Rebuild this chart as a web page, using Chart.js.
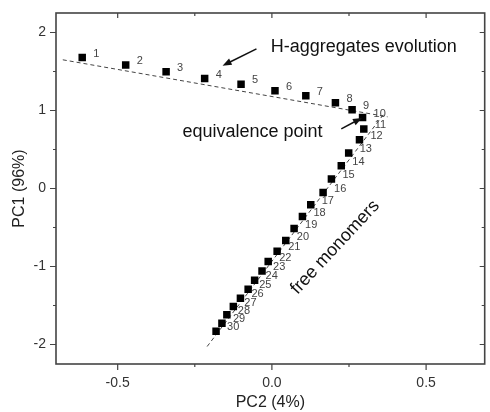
<!DOCTYPE html>
<html><head><meta charset="utf-8">
<script src="https://cdn.jsdelivr.net/npm/chart.js@4/dist/chart.umd.min.js"></script>
<style>html,body{margin:0;padding:0;background:#fff}#wrap{width:490px;height:412px}</style>
</head><body><div id="wrap"><canvas id="c" width="490" height="412"></canvas></div>
<script>
// ---- data ----
const pointNumbers = [1,2,3,4,5,6,7,8,9,10,11,12,13,14,15,16,17,18,19,20,21,22,23,24,25,26,27,28,29,30];
const pc2Values = [-0.615,-0.474,-0.343,-0.218,-0.100,0.010,0.110,0.206,0.260,0.294,0.298,0.284,0.249,0.225,0.193,0.166,0.126,0.099,0.072,0.045,0.017,-0.012,-0.032,-0.056,-0.077,-0.102,-0.125,-0.146,-0.162,-0.181];
const pc1Values = [1.679,1.582,1.496,1.410,1.338,1.253,1.188,1.099,1.009,0.910,0.762,0.624,0.454,0.291,0.121,-0.051,-0.209,-0.359,-0.513,-0.667,-0.803,-0.936,-1.059,-1.177,-1.292,-1.408,-1.513,-1.619,-1.726,-1.829];
const hFitX = [-0.678, 0.375];
const hFitY = [1.650, 0.919];
const monoFitX = [-0.210, 0.362];
const monoFitY = [-2.026, 0.950];
const xMajorTicks = [-0.5, 0.0, 0.5];
const xTickLabels = ['-0.5', '0.0', '0.5'];
const xMinorTicks = [-0.25, 0.25];
const yMajorTicks = [-2, -1, 0, 1, 2];
const yTickLabels = ['-2', '-1', '0', '1', '2'];
const yMinorTicks = [-1.5, -0.5, 0.5, 1.5];
const xTitle = 'PC2 (4%)';
const yTitle = 'PC1 (96%)';
const annoHText = 'H-aggregates evolution';
const annoEqText = 'equivalence point';
const annoFreeText = 'free monomers';
// annotation anchors in data units
const annoHPos = [-0.004, 1.815];
const annoHArrow = [[-0.050, 1.79], [-0.160, 1.575]];
const annoEqPos = [-0.290, 0.72];
const annoEqArrow = [[0.225, 0.765], [0.292, 0.905]];
const annoFreePos = [0.205, -0.755];

const FONT = "'Liberation Sans', Arial, sans-serif";

const pts = pc2Values.map((x, i) => ({x, y: pc1Values[i]}));
const hLine = hFitX.map((x, i) => ({x, y: hFitY[i]}));
const mLine = monoFitX.map((x, i) => ({x, y: monoFitY[i]}));

function arrow(ctx, x1, y1, x2, y2) {
  const a = Math.atan2(y2 - y1, x2 - x1);
  const L = 9, W = 3.5;
  ctx.beginPath();
  ctx.moveTo(x1, y1);
  ctx.lineTo(x2 - Math.cos(a) * L * 0.8, y2 - Math.sin(a) * L * 0.8);
  ctx.stroke();
  ctx.beginPath();
  ctx.moveTo(x2, y2);
  ctx.lineTo(x2 - Math.cos(a) * L + Math.sin(a) * W, y2 - Math.sin(a) * L - Math.cos(a) * W);
  ctx.lineTo(x2 - Math.cos(a) * L - Math.sin(a) * W, y2 - Math.sin(a) * L + Math.cos(a) * W);
  ctx.closePath();
  ctx.fill();
}

const decor = {
  id: 'decor',
  afterDatasetsDraw(chart) {
    const ctx = chart.ctx, xs = chart.scales.x, ys = chart.scales.y, a = chart.chartArea;
    ctx.save();
    // point number labels
    const meta = chart.getDatasetMeta(0);
    ctx.font = '11px ' + FONT;
    ctx.fillStyle = '#444';
    ctx.textAlign = 'left';
    ctx.textBaseline = 'middle';
    meta.data.forEach((el, i) => {
      ctx.fillText(String(pointNumbers[i]), el.x + 11, el.y - 4);
    });
    // frame
    ctx.strokeStyle = '#444';
    ctx.lineWidth = 1.6;
    ctx.strokeRect(a.left, a.top, a.right - a.left, a.bottom - a.top);
    // ticks
    ctx.lineWidth = 1.2;
    ctx.beginPath();
    xMajorTicks.forEach(v => { const p = xs.getPixelForValue(v);
      ctx.moveTo(p, a.bottom); ctx.lineTo(p, a.bottom + 6);
      ctx.moveTo(p, a.top); ctx.lineTo(p, a.top + 5); });
    xMinorTicks.forEach(v => { const p = xs.getPixelForValue(v);
      ctx.moveTo(p, a.bottom); ctx.lineTo(p, a.bottom + 3);
      ctx.moveTo(p, a.top); ctx.lineTo(p, a.top + 3); });
    yMajorTicks.forEach(v => { const p = ys.getPixelForValue(v);
      ctx.moveTo(a.left, p); ctx.lineTo(a.left - 6, p);
      ctx.moveTo(a.right, p); ctx.lineTo(a.right - 5, p); });
    yMinorTicks.forEach(v => { const p = ys.getPixelForValue(v);
      ctx.moveTo(a.left, p); ctx.lineTo(a.left - 3, p);
      ctx.moveTo(a.right, p); ctx.lineTo(a.right - 3, p); });
    ctx.stroke();
    // annotations
    ctx.fillStyle = '#111';
    ctx.strokeStyle = '#111';
    ctx.font = '18px ' + FONT;
    ctx.textAlign = 'left';
    ctx.textBaseline = 'middle';
    ctx.fillText(annoHText, xs.getPixelForValue(annoHPos[0]), ys.getPixelForValue(annoHPos[1]));
    ctx.fillText(annoEqText, xs.getPixelForValue(annoEqPos[0]), ys.getPixelForValue(annoEqPos[1]));
    ctx.lineWidth = 1.5;
    arrow(ctx, xs.getPixelForValue(annoHArrow[0][0]), ys.getPixelForValue(annoHArrow[0][1]),
               xs.getPixelForValue(annoHArrow[1][0]), ys.getPixelForValue(annoHArrow[1][1]));
    arrow(ctx, xs.getPixelForValue(annoEqArrow[0][0]), ys.getPixelForValue(annoEqArrow[0][1]),
               xs.getPixelForValue(annoEqArrow[1][0]), ys.getPixelForValue(annoEqArrow[1][1]));
    ctx.save();
    ctx.translate(xs.getPixelForValue(annoFreePos[0]), ys.getPixelForValue(annoFreePos[1]));
    ctx.rotate(-47 * Math.PI / 180);
    ctx.textAlign = 'center';
    ctx.fillText(annoFreeText, 0, 0);
    ctx.restore();
    ctx.restore();
  }
};

new Chart(document.getElementById('c'), {
  type: 'scatter',
  data: {
    datasets: [
      { data: pts, order: 0, pointStyle: 'rect', pointRadius: 5.3, pointHoverRadius: 5.3,
        backgroundColor: '#000', borderColor: '#000', borderWidth: 0, showLine: false },
      { data: hLine, order: 1, showLine: true, pointRadius: 0, borderColor: '#444',
        borderWidth: 1, borderDash: [4, 3], fill: false },
      { data: mLine, order: 2, showLine: true, pointRadius: 0, borderColor: '#444',
        borderWidth: 1, borderDash: [4, 3], fill: false }
    ]
  },
  options: {
    responsive: false, animation: false, devicePixelRatio: 1,
    layout: { padding: { top: 13, right: 1, left: 0, bottom: 0 } },
    plugins: { legend: { display: false }, tooltip: { enabled: false } },
    scales: {
      x: {
        type: 'linear', min: -0.7, max: 0.69,
        afterBuildTicks: s => { s.ticks = xMajorTicks.map(v => ({value: v})); },
        afterFit: s => { s.height = 48; },
        ticks: { callback: (v, i) => xTickLabels[i], font: { family: FONT, size: 14 }, color: '#333', padding: 5, maxRotation: 0, autoSkip: false },
        grid: { color: 'transparent', tickLength: 6, drawTicks: true },
        border: { display: false },
        title: { display: true, text: xTitle, font: { family: FONT, size: 16 }, color: '#222', padding: { top: 0, bottom: 0 } }
      },
      y: {
        type: 'linear', min: -2.25, max: 2.25,
        afterBuildTicks: s => { s.ticks = yMajorTicks.map(v => ({value: v})); },
        afterFit: s => { s.width = 56; },
        ticks: { callback: (v, i) => yTickLabels[i], font: { family: FONT, size: 14 }, color: '#333', padding: 4, autoSkip: false },
        grid: { color: 'transparent', tickLength: 6, drawTicks: true },
        border: { display: false },
        title: { display: true, text: yTitle, font: { family: FONT, size: 16 }, color: '#222', padding: { top: 10, bottom: 0 } }
      }
    }
  },
  plugins: [decor]
});
</script>
</body></html>
